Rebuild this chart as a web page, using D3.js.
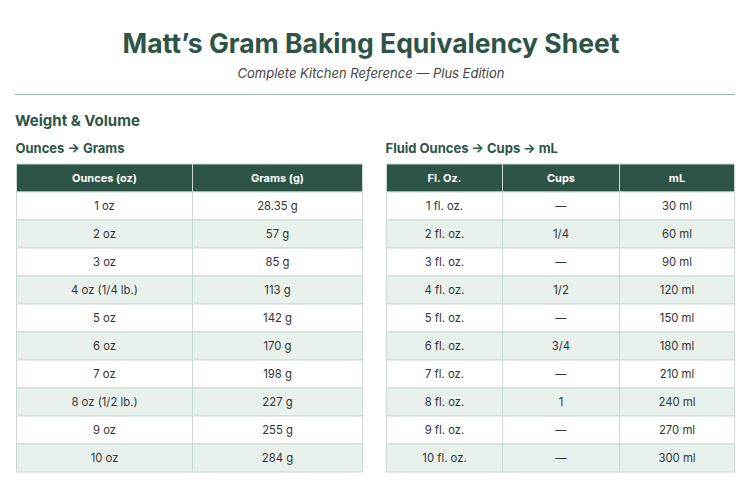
<!DOCTYPE html>
<html lang="en">
<head>
<meta charset="utf-8">
<script src="https://cdnjs.cloudflare.com/ajax/libs/d3/7.8.5/d3.min.js"></script>
<style>
  body { margin: 0; background: #fff; }
  text { font-family: Inter, "Noto Sans", sans-serif; }
</style>
</head>
<body>
<script>
var w = 742, h = 482;

// table 1: ounces -> grams
var ozHeaders = ["Ounces (oz)", "Grams (g)"];
var ounces = ["1 oz", "2 oz", "3 oz", "4 oz (1/4 lb.)", "5 oz", "6 oz", "7 oz", "8 oz (1/2 lb.)", "9 oz", "10 oz"];
var grams = ["28.35 g", "57 g", "85 g", "113 g", "142 g", "170 g", "198 g", "227 g", "255 g", "284 g"];

// table 2: fluid ounces -> cups -> mL
var flHeaders = ["Fl. Oz.", "Cups", "mL"];
var flOz = ["1 fl. oz.", "2 fl. oz.", "3 fl. oz.", "4 fl. oz.", "5 fl. oz.", "6 fl. oz.", "7 fl. oz.", "8 fl. oz.", "9 fl. oz.", "10 fl. oz."];
var cups = ["—", "1/4", "—", "1/2", "—", "3/4", "—", "1", "—", "—"];
var ml = ["30 ml", "60 ml", "90 ml", "120 ml", "150 ml", "180 ml", "210 ml", "240 ml", "270 ml", "300 ml"];

var green = "#2d5446", stripe = "#e8f1ec", border = "#c8dad2";

var svg = d3.select("body").append("svg")
    .attr("width", w)
    .attr("height", h);

svg.append("text")
    .attr("x", w / 2).attr("y", 53)
    .attr("text-anchor", "middle")
    .attr("font-size", 26.5).attr("font-weight", 700)
    .attr("fill", green)
    .text("Matt\u2019s Gram Baking Equivalency Sheet");

svg.append("text")
    .attr("x", w / 2).attr("y", 78)
    .attr("text-anchor", "middle")
    .attr("font-size", 13).attr("font-style", "italic")
    .attr("fill", "#444")
    .text("Complete Kitchen Reference \u2014 Plus Edition");

svg.append("line")
    .attr("x1", 15).attr("x2", 735)
    .attr("y1", 94.5).attr("y2", 94.5)
    .attr("stroke", "#9bb7ad").attr("stroke-width", 1);

svg.append("text")
    .attr("x", 15).attr("y", 126)
    .attr("font-size", 15).attr("font-weight", 700)
    .attr("fill", green)
    .text("Weight & Volume");

// edges: column boundary positions of a table
function drawTable(title, edges, headers, cols) {
    var g = svg.append("g");
    g.append("text")
        .attr("x", edges[0] - 1).attr("y", 153)
        .attr("font-size", 13).attr("font-weight", 700)
        .attr("fill", green)
        .text(title);

    var n = cols[0].length;
    var xs = i => edges[i];
    var cw = i => edges[i + 1] - edges[i];
    var ys = d3.scaleBand().domain(d3.range(n + 1)).range([164, 164 + 28 * (n + 1)]);

    // header
    g.selectAll("rect.head").data(headers).enter().append("rect")
        .attr("x", (d, i) => xs(i)).attr("y", ys(0))
        .attr("width", (d, i) => cw(i)).attr("height", ys.bandwidth())
        .attr("fill", green).attr("stroke", border);
    g.selectAll("text.head").data(headers).enter().append("text")
        .attr("x", (d, i) => xs(i) + cw(i) / 2)
        .attr("y", ys(0) + ys.bandwidth() / 2 + 4)
        .attr("text-anchor", "middle")
        .attr("font-size", 11).attr("font-weight", 700)
        .attr("fill", "#fff")
        .text(d => d);

    // body
    var cells = [];
    cols.forEach(function (col, c) {
        col.forEach(function (v, r) { cells.push({ c: c, r: r, v: v }); });
    });
    g.selectAll("rect.cell").data(cells).enter().append("rect")
        .attr("x", d => xs(d.c)).attr("y", d => ys(d.r + 1))
        .attr("width", d => cw(d.c)).attr("height", ys.bandwidth())
        .attr("fill", d => d.r % 2 ? stripe : "#fff")
        .attr("stroke", border);
    g.selectAll("text.cell").data(cells).enter().append("text")
        .attr("x", d => xs(d.c) + cw(d.c) / 2)
        .attr("y", d => ys(d.r + 1) + ys.bandwidth() / 2 + 4)
        .attr("text-anchor", "middle")
        .attr("font-size", 11.3)
        .attr("fill", "#333")
        .text(d => d.v);
}

drawTable("Ounces \u2192 Grams", [16.5, 192.5, 362.5], ozHeaders, [ounces, grams]);
drawTable("Fluid Ounces \u2192 Cups \u2192 mL", [386.5, 502.5, 619.5, 734.5], flHeaders, [flOz, cups, ml]);
</script>
</body>
</html>
